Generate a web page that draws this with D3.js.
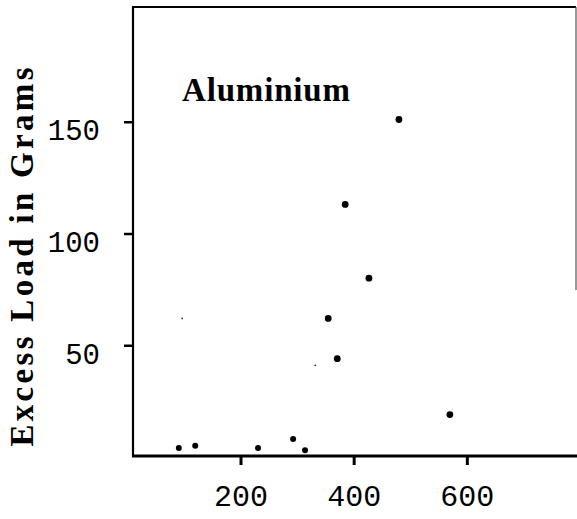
<!DOCTYPE html>
<html>
<head>
<meta charset="utf-8">
<script src="https://cdn.jsdelivr.net/npm/d3@7/dist/d3.min.js"></script>
<style>
  html, body { margin: 0; padding: 0; background: #fff; }
  svg { display: block; }
</style>
</head>
<body>
<script>
// Data
const xValues = [91, 120, 231, 293, 314, 355, 371, 385, 427, 480, 570];
const yValues = [4, 5, 4, 8, 3, 62, 44, 113, 80, 151, 19];
const speckX = [97, 332];
const speckY = [62, 41];
const xTicks = [200, 400, 600];
const yTicks = [50, 100, 150];
const label = "Aluminium";
const yTitle = "Excess Load in Grams";

const W = 577, H = 519;
const svg = d3.select("body").append("svg").attr("width", W).attr("height", H);

const x = d3.scaleLinear().domain([10, 800]).range([133, 580]);
const y = d3.scaleLinear().domain([0, 200]).range([457, 10]);

const mono = "'Liberation Mono', 'Courier New', monospace";
const serif = "'Liberation Serif', 'DejaVu Serif', serif";

// Frame
svg.append("line").attr("x1", 133).attr("x2", 133).attr("y1", 7).attr("y2", 457)
  .attr("stroke", "#000").attr("stroke-width", 2.2);
svg.append("line").attr("x1", 132).attr("x2", 577).attr("y1", 456).attr("y2", 456)
  .attr("stroke", "#000").attr("stroke-width", 3);
svg.append("line").attr("x1", 132).attr("x2", 576).attr("y1", 7).attr("y2", 7)
  .attr("stroke", "#000").attr("stroke-width", 2);
svg.append("line").attr("x1", 576).attr("x2", 576).attr("y1", 7).attr("y2", 290)
  .attr("stroke", "#555").attr("stroke-width", 1.2);

// Y axis
const yAxis = svg.append("g").attr("transform", "translate(133,0)")
  .call(d3.axisLeft(y).tickValues(yTicks).tickSize(9).tickPadding(24).tickSizeOuter(0));
yAxis.select(".domain").remove();
yAxis.selectAll(".tick line").attr("stroke", "#000").attr("stroke-width", 2.5);
yAxis.selectAll(".tick text").attr("font-family", mono).attr("font-size", 29)
  .attr("fill", "#000").attr("dy", "0.62em");

// X axis
const xAxis = svg.append("g").attr("transform", "translate(0,456)")
  .call(d3.axisBottom(x).tickValues(xTicks).tickSize(9).tickPadding(20).tickSizeOuter(0));
xAxis.select(".domain").remove();
xAxis.selectAll(".tick line").attr("stroke", "#000").attr("stroke-width", 3);
xAxis.selectAll(".tick text").attr("font-family", mono).attr("font-size", 30)
  .attr("fill", "#000");

// Points
const pts = xValues.map((v, i) => ({ x: v, y: yValues[i] }));
svg.append("g").selectAll("circle").data(pts).enter().append("circle")
  .attr("cx", d => x(d.x)).attr("cy", d => y(d.y)).attr("r", d => d.y > 15 ? 3.4 : 3)
  .attr("fill", "#000");

const specks = speckX.map((v, i) => ({ x: v, y: speckY[i] }));
svg.append("g").selectAll("circle").data(specks).enter().append("circle")
  .attr("cx", d => x(d.x)).attr("cy", d => y(d.y)).attr("r", 0.9).attr("fill", "#333");

// Label
svg.append("text").attr("x", 182).attr("y", 101).attr("font-family", serif)
  .attr("font-size", 33).attr("font-weight", "bold").attr("fill", "#000")
  .attr("textLength", 168).attr("lengthAdjust", "spacing").text(label);

// Y title
svg.append("text").attr("transform", "translate(33,257) rotate(-90)")
  .attr("text-anchor", "middle").attr("font-family", serif).attr("font-size", 33)
  .attr("font-weight", "bold").attr("fill", "#000")
  .attr("textLength", 379).attr("lengthAdjust", "spacing").text(yTitle);
</script>
</body>
</html>
